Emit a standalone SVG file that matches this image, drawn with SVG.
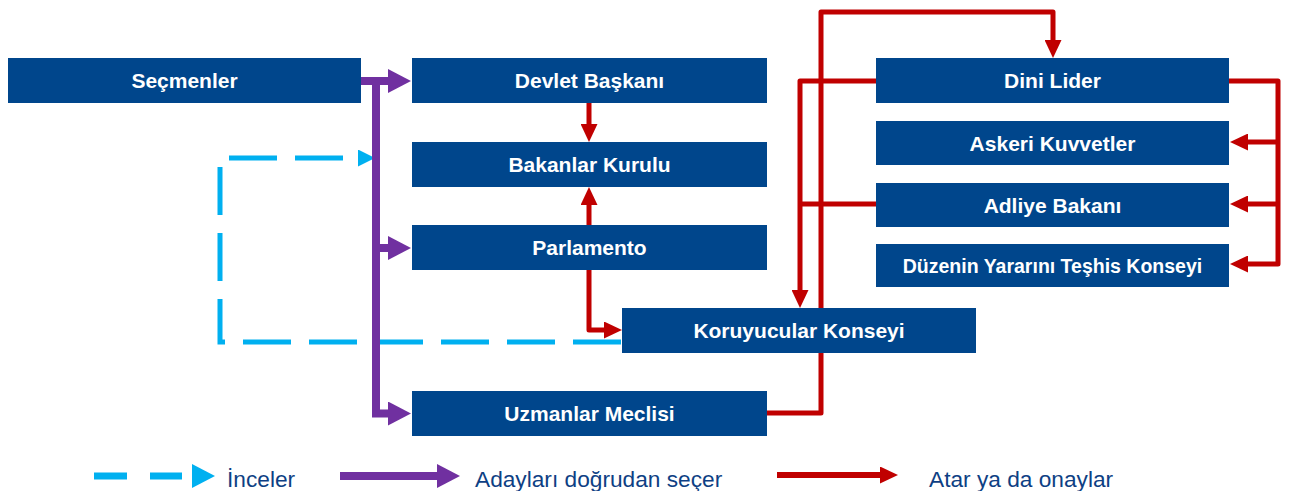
<svg xmlns="http://www.w3.org/2000/svg" width="1289" height="491" viewBox="0 0 1289 491">
<style>
.box{fill:#00468C}
.lbl{font-family:"Liberation Sans",Arial,sans-serif;font-weight:bold;font-size:21px;fill:#FFFFFF;text-anchor:middle}
.sm{font-size:19.5px}
.red{fill:none;stroke:#C00000;stroke-width:5;stroke-linejoin:round}
.pur{fill:none;stroke:#7030A0;stroke-width:8}
.cya{fill:none;stroke:#00B0F0;stroke-width:5;stroke-dasharray:48 18}
.leg{font-family:"Liberation Sans",Arial,sans-serif;font-size:22.7px;fill:#0E3F84}
</style>
<defs>
<marker id="ar" markerUnits="userSpaceOnUse" viewBox="0 0 18 17" markerWidth="18" markerHeight="17" refX="0" refY="8.5" orient="auto"><path d="M0,0 L18,8.5 L0,17z" fill="#C00000"/></marker>
<marker id="ap" markerUnits="userSpaceOnUse" viewBox="0 0 23 24" markerWidth="23" markerHeight="24" refX="0" refY="12" orient="auto"><path d="M0,0 L23,12 L0,24z" fill="#7030A0"/></marker>
<marker id="ac" markerUnits="userSpaceOnUse" viewBox="0 0 17 17" markerWidth="17" markerHeight="17" refX="0" refY="8.5" orient="auto"><path d="M0,0 L17,8.5 L0,17z" fill="#00B0F0"/></marker>
<marker id="acl" markerUnits="userSpaceOnUse" viewBox="0 0 23 24" markerWidth="23" markerHeight="24" refX="0" refY="12" orient="auto"><path d="M0,0 L23,12 L0,24z" fill="#00B0F0"/></marker>
</defs>
<g id="connectors">
<path class="cya" d="M621,342 H220 V158 H358" marker-end="url(#ac)"/>
<path class="red" d="M589,103 V124" marker-end="url(#ar)"/>
<path class="red" d="M589,225 V205" marker-end="url(#ar)"/>
<path class="red" d="M589,270 V330 H604" marker-end="url(#ar)"/>
<path class="red" d="M876,81 H800 V290" marker-end="url(#ar)"/>
<path class="red" d="M876,204 H800"/>
<path class="red" d="M767,413 H821 V12 H1053 V40" marker-end="url(#ar)"/>
<path class="red" d="M1229,81 H1278 V264 H1248" marker-end="url(#ar)"/>
<path class="red" d="M1278,142 H1248" marker-end="url(#ar)"/>
<path class="red" d="M1278,204 H1248" marker-end="url(#ar)"/>
<path class="pur" d="M361,81 H388" marker-end="url(#ap)"/>
<path class="pur" d="M376,77 V413.5 H388" marker-end="url(#ap)"/>
<path class="pur" d="M376,248 H388" marker-end="url(#ap)"/>
</g>
<g id="n-secmenler"><rect class="box" x="8" y="58" width="353" height="45"/><text class="lbl" x="184.5" y="88">Seçmenler</text></g>
<g id="n-devlet"><rect class="box" x="412" y="58" width="355" height="45"/><text class="lbl" x="589.5" y="88">Devlet Başkanı</text></g>
<g id="n-bakanlar"><rect class="box" x="412" y="142" width="355" height="45"/><text class="lbl" x="589.5" y="172">Bakanlar Kurulu</text></g>
<g id="n-parlamento"><rect class="box" x="412" y="225" width="355" height="45"/><text class="lbl" x="589.5" y="255">Parlamento</text></g>
<g id="n-koruyucular"><rect class="box" x="622" y="308" width="354" height="45"/><text class="lbl" x="799" y="338">Koruyucular Konseyi</text></g>
<g id="n-uzmanlar"><rect class="box" x="412" y="391" width="355" height="45"/><text class="lbl" x="589.5" y="421">Uzmanlar Meclisi</text></g>
<g id="n-dini"><rect class="box" x="876" y="58" width="353" height="45"/><text class="lbl" x="1052.5" y="88">Dini Lider</text></g>
<g id="n-askeri"><rect class="box" x="876" y="121" width="353" height="44"/><text class="lbl" x="1052.5" y="150.5">Askeri Kuvvetler</text></g>
<g id="n-adliye"><rect class="box" x="876" y="183" width="353" height="44"/><text class="lbl" x="1052.5" y="212.5">Adliye Bakanı</text></g>
<g id="n-duzenin"><rect class="box" x="876" y="244" width="353" height="43"/><text class="lbl sm" x="1052.5" y="272.5">Düzenin Yararını Teşhis Konseyi</text></g>
<g id="legend">
<path d="M94,476 H127 M150,476 H182" stroke="#00B0F0" stroke-width="7" fill="none"/>
<path d="M182,476 H192" stroke="none" fill="none" marker-end="url(#acl)"/>
<text class="leg" x="227" y="487">İnceler</text>
<path d="M340,476 H437" stroke="#7030A0" stroke-width="8" fill="none" marker-end="url(#ap)"/>
<text class="leg" x="475" y="487">Adayları doğrudan seçer</text>
<path d="M777,475 H880" stroke="#C00000" stroke-width="6" fill="none" marker-end="url(#ar)"/>
<text class="leg" x="929" y="487">Atar ya da onaylar</text>
</g>
</svg>
